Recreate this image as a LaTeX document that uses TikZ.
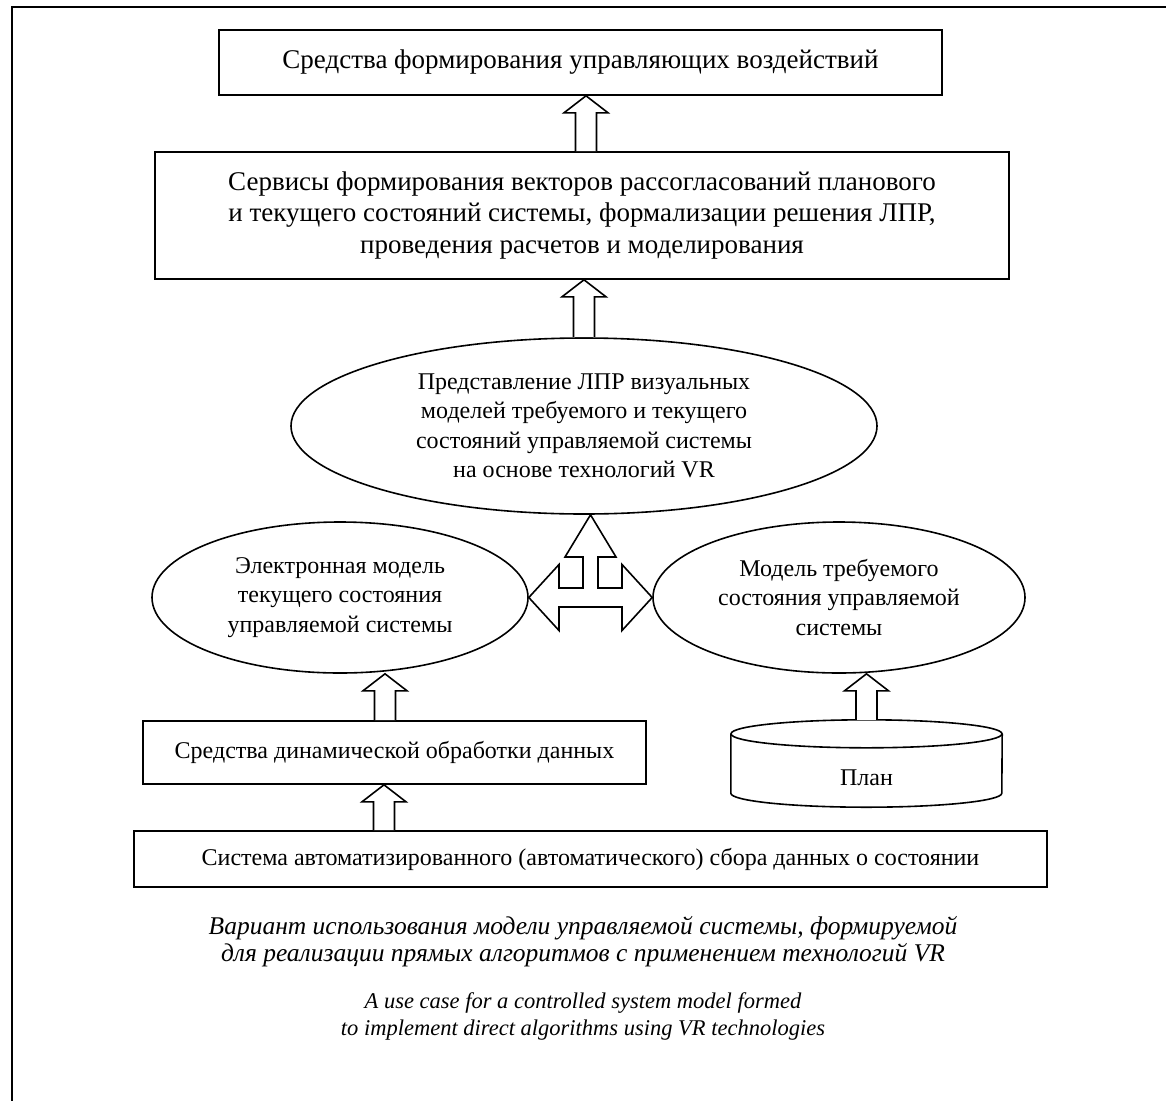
\documentclass[tikz,border=0pt]{standalone}
\usepackage{fontspec}
\setmainfont{Liberation Serif}
\usetikzlibrary{shapes.geometric,calc}
\newcommand\bigfont{\fontsize{27}{31.5}\selectfont}
\newcommand\diagfont{\fontsize{24}{29.5}\selectfont}
\newcommand\capfont{\fontsize{25.5}{27}\selectfont\itshape}
\newcommand\capfontlat{\fontsize{22.5}{27}\selectfont\itshape}
\newcommand\upblock[3]{%
  \draw[blockarrow] let \p1=(#2), \p2=(#3) in
    (#1-10.5,\y1) -- (#1-10.5,\y2-17) -- (#1-22,\y2-17) -- (#1,\y2) --
    (#1+22,\y2-17) -- (#1+10.5,\y2-17) -- (#1+10.5,\y1);}
\begin{document}
\begin{tikzpicture}[x=1pt,y=1pt,
  box/.style={draw, line width=1.6pt, rectangle, inner sep=0pt, align=center, font=\diagfont},
  oval/.style={draw, line width=1.6pt, ellipse, inner sep=0pt, align=center, font=\diagfont},
  shapeline/.style={line width=1.6pt},
  blockarrow/.style={draw, line width=1.6pt, fill=white, line join=miter},
  frameline/.style={line width=2.4pt}]
\useasboundingbox (0,0) rectangle (1166,-1100);
\draw[frameline] (12,-1102) -- (12,-7) -- (1168,-7);

\node[box, font=\bigfont, minimum width=723, minimum height=65] (top) at (580.5,-62.5)
  {Средства формирования управляющих воздействий};
\node[box, font=\bigfont, minimum width=854, minimum height=127] (serv) at (582,-215.5)
  {Сервисы формирования векторов рассогласований планового\\и текущего состояний системы, формализации решения ЛПР,\\проведения расчетов и моделирования};
\node[oval, minimum width=586, minimum height=176] (vr) at (584,-426)
  {Представление ЛПР визуальных\\моделей требуемого и текущего\\состояний управляемой системы\\на основе технологий VR};
\node[oval, minimum width=376, minimum height=151] (cur) at (340,-597.5)
  {Электронная модель\\текущего состояния\\управляемой системы};
\node[oval, minimum width=372, minimum height=151] (req) at (839,-597.5)
  {Модель требуемого\\состояния управляемой\\системы};
\node[box, minimum width=503, minimum height=63] (dyn) at (394.5,-752.5)
  {Средства динамической обработки данных};
\node[box, minimum width=913, minimum height=56] (col) at (590.5,-859)
  {Система автоматизированного (автоматического) сбора данных о состоянии};

% cylinder "План"
\node[minimum width=271, minimum height=87, inner sep=0pt] (plan) at (866.5,-763.5) {};
\draw[shapeline] ([yshift=-14]plan.north west) -- ([yshift=14]plan.south west)
  arc(180:360:135.5 and 14) -- ([yshift=-14]plan.north east);
\draw[shapeline] ([yshift=-14]plan.north) ellipse (135.5 and 14);
\node[font=\diagfont] (plantext) at ([yshift=-14]plan.center) {План};

% block arrows
\upblock{586}{serv.north}{top.south}
\upblock{584}{vr.north}{serv.south}
\upblock{385}{dyn.north}{cur.south}
\upblock{384}{col.north}{dyn.south}
\upblock{866.5}{plan.north}{req.south}

% cross arrow
\draw[blockarrow] let \p1=(cur.east), \p2=(req.west), \p3=(vr.south),
    \n1={0.5*(\x1+\x2)}, \n2={0.5*(\y1+\y2)} in
  (\n1,\y3) -- (\n1+25.5,\n2+40.5) -- (\n1+7.5,\n2+40.5) -- (\n1+7.5,\n2+9.5)
  -- (\n1+31.5,\n2+9.5) -- (\n1+31.5,\n2+33) -- (\x2,\n2) -- (\n1+31.5,\n2-33)
  -- (\n1+31.5,\n2-9.5) -- (\n1-31.5,\n2-9.5) -- (\n1-31.5,\n2-33) -- (\x1,\n2)
  -- (\n1-31.5,\n2+33) -- (\n1-31.5,\n2+9.5) -- (\n1-7.5,\n2+9.5)
  -- (\n1-7.5,\n2+40.5) -- (\n1-25.5,\n2+40.5) -- cycle;

% captions
\node[font=\capfont, align=center] (cap1) at (583,-941.5)
  {Вариант использования модели управляемой системы, формируемой\\для реализации прямых алгоритмов с применением технологий VR};
\node[font=\capfontlat, align=center] (cap2) at (583,-1016.5)
  {A use case for a controlled system model formed\\to implement direct algorithms using VR technologies};
\end{tikzpicture}
\end{document}
